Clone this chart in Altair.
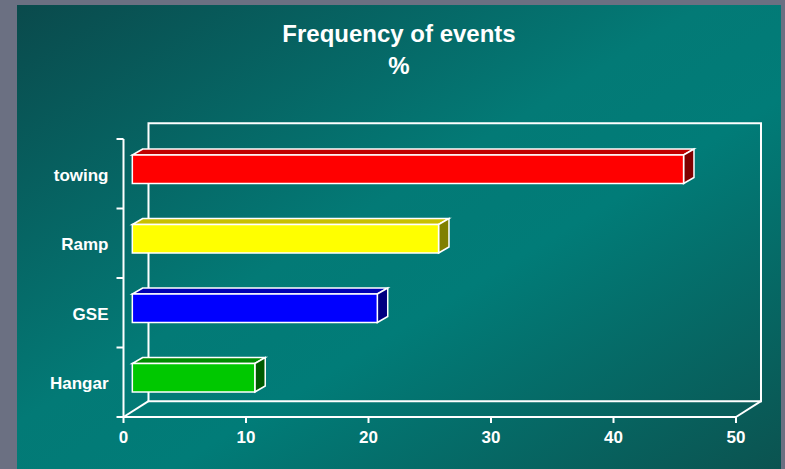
import altair as alt
import pandas as pd

# ---------------- data ----------------
categories = ["Hangar", "GSE", "Ramp", "towing"]          # bottom -> top
values = [10, 20, 25, 45]
front_colors = ["#00c800", "#0000ff", "#ffff00", "#ff0000"]
top_colors = ["#008c00", "#0000b4", "#c8c000", "#c00000"]
side_colors = ["#005a00", "#000080", "#808000", "#800000"]
x_ticks = [0, 10, 20, 30, 40, 50]
title_lines = ["Frequency of events", "%"]

# ---------------- geometry (scale units) ----------------
W, H = 764, 464
X_DOMAIN = [-8.694, 53.673]
Y_DOMAIN = [-0.748, 5.928]
X_MAX = 50
DX, DY = 2.04, 0.228          # depth of the 3D frame
BX0, BY0 = 0.72, 0.065        # bar front face offset
BX1, BY1 = 1.57, 0.151        # bar back face offset
HALF = 0.205                  # half bar height

xs = alt.Scale(domain=X_DOMAIN, nice=False, zero=False)
ys = alt.Scale(domain=Y_DOMAIN, nice=False, zero=False)


def X(f, **kw):
    return alt.X(f, type="quantitative", scale=xs, axis=None, **kw)


def Y(f, **kw):
    return alt.Y(f, type="quantitative", scale=ys, axis=None, **kw)


n = len(categories)
front_rows, top_rows, side_rows = [], [], []
for i, (c, v) in enumerate(zip(categories, values)):
    mid = i + 0.5
    front_rows.append(dict(cat=c, x0=BX0, x1=v + BX0, y0=mid + BY0 - HALF,
                           y1=mid + BY0 + HALF, col=front_colors[i]))
    top_rows.append(dict(cat=c, y=mid + BY0 + HALF, xl=BX0, xr=v + BX0, col=top_colors[i]))
    top_rows.append(dict(cat=c, y=mid + BY1 + HALF, xl=BX1, xr=v + BX1, col=top_colors[i]))
    side_rows.append(dict(cat=c, x=v + BX0, ylo=mid + BY0 - HALF, yhi=mid + BY0 + HALF, col=side_colors[i]))
    side_rows.append(dict(cat=c, x=v + BX1, ylo=mid + BY1 - HALF, yhi=mid + BY1 + HALF, col=side_colors[i]))

front_df = pd.DataFrame(front_rows)
top_df = pd.DataFrame(top_rows)
side_df = pd.DataFrame(side_rows)
label_df = pd.DataFrame({"cat": categories, "y": [i + 0.5 for i in range(n)]})
xtick_df = pd.DataFrame({"t": x_ticks, "lbl": [str(t) for t in x_ticks]})
ytick_df = pd.DataFrame({"k": list(range(n + 1))})

WHITE = "white"
FONT = "Liberation Sans"

# panel background with gradient
panel = alt.Chart(pd.DataFrame({"a": [X_DOMAIN[0]], "b": [X_DOMAIN[1]], "c": [Y_DOMAIN[0]], "d": [Y_DOMAIN[1]]})).mark_rect(
    color=alt.LinearGradient(
        gradient="linear", x1=0, y1=0, x2=1, y2=1,
        stops=[
            alt.GradientStop(color="#0a4a4c", offset=0),
            alt.GradientStop(color="#037a76", offset=0.45),
            alt.GradientStop(color="#017c78", offset=0.6),
            alt.GradientStop(color="#0b5350", offset=1),
        ],
    )
).encode(x=X("a"), x2=alt.X2("b"), y=Y("c"), y2=alt.Y2("d"))

# back wall
back = alt.Chart(pd.DataFrame({"a": [DX], "b": [X_MAX + DX], "c": [DY], "d": [n + DY]})).mark_rect(
    fillOpacity=0, stroke=WHITE, strokeWidth=2
).encode(x=X("a"), x2=alt.X2("b"), y=Y("c"), y2=alt.Y2("d"))

# floor diagonals
diag = alt.Chart(pd.DataFrame({"a": [0, X_MAX], "b": [DX, X_MAX + DX], "c": [0, 0], "d": [DY, DY]})).mark_rule(
    color=WHITE, strokeWidth=2
).encode(x=X("a"), x2=alt.X2("b"), y=Y("c"), y2=alt.Y2("d"))

# front axes lines
yaxis = alt.Chart(pd.DataFrame({"a": [0], "c": [0], "d": [n]})).mark_rule(color=WHITE, strokeWidth=2).encode(
    x=X("a"), y=Y("c"), y2=alt.Y2("d"))
xaxis = alt.Chart(pd.DataFrame({"a": [0], "b": [X_MAX], "c": [0]})).mark_rule(color=WHITE, strokeWidth=2).encode(
    x=X("a"), x2=alt.X2("b"), y=Y("c"))

yticks = alt.Chart(ytick_df).transform_calculate(z="0").mark_rule(
    color=WHITE, strokeWidth=2, xOffset=-7).encode(x=X("z:Q"), x2=alt.X2("z:Q"), y=Y("k"))
xticks = alt.Chart(xtick_df).transform_calculate(z="0").mark_rule(
    color=WHITE, strokeWidth=2, y2Offset=6).encode(x=X("t"), y=Y("z:Q"), y2=alt.Y2("z:Q"))

# bars
top = alt.Chart(top_df).mark_area(orient="horizontal", stroke=WHITE, strokeWidth=1.5, fillOpacity=1).encode(
    y=Y("y"), x=X("xl"), x2=alt.X2("xr"), color=alt.Color("col:N", scale=None), detail="cat:N")
side = alt.Chart(side_df).mark_area(orient="vertical", stroke=WHITE, strokeWidth=1.5, fillOpacity=1).encode(
    x=X("x"), y=Y("ylo"), y2=alt.Y2("yhi"), color=alt.Color("col:N", scale=None), detail="cat:N")
front = alt.Chart(front_df).mark_rect(stroke=WHITE, strokeWidth=1.5).encode(
    x=X("x0"), x2=alt.X2("x1"), y=Y("y0"), y2=alt.Y2("y1"), color=alt.Color("col:N", scale=None))

# labels
cat_labels = alt.Chart(label_df).transform_calculate(z="0").mark_text(
    align="right", baseline="alphabetic", dx=-15, dy=7, font=FONT, fontWeight="bold", fontSize=17, color=WHITE
).encode(x=X("z:Q"), y=Y("y"), text="cat:N")
x_labels = alt.Chart(xtick_df).transform_calculate(z="0").mark_text(
    align="center", baseline="alphabetic", dy=26, font=FONT, fontWeight="bold", fontSize=17, color=WHITE
).encode(x=X("t"), y=Y("z:Q"), text="lbl:N")

chart = alt.layer(
    panel, back, diag, yaxis, xaxis, yticks, xticks, top, side, front, cat_labels, x_labels
).properties(
    width=W, height=H,
    padding={"left": 17, "top": 5, "right": 4, "bottom": 0},
    autosize=alt.AutoSizeParams(type="none"),
    background="#6b7082",
    title=alt.TitleParams(
        text=title_lines, anchor="middle", orient="top", offset=0, baseline="top", dy=74,
        font=FONT, fontWeight="bold", fontSize=24, color=WHITE, lineHeight=32,
    ),
).configure_view(
    stroke="transparent",
)

chart.save("out.html", embed_options={"renderer": "svg", "actions": False})
